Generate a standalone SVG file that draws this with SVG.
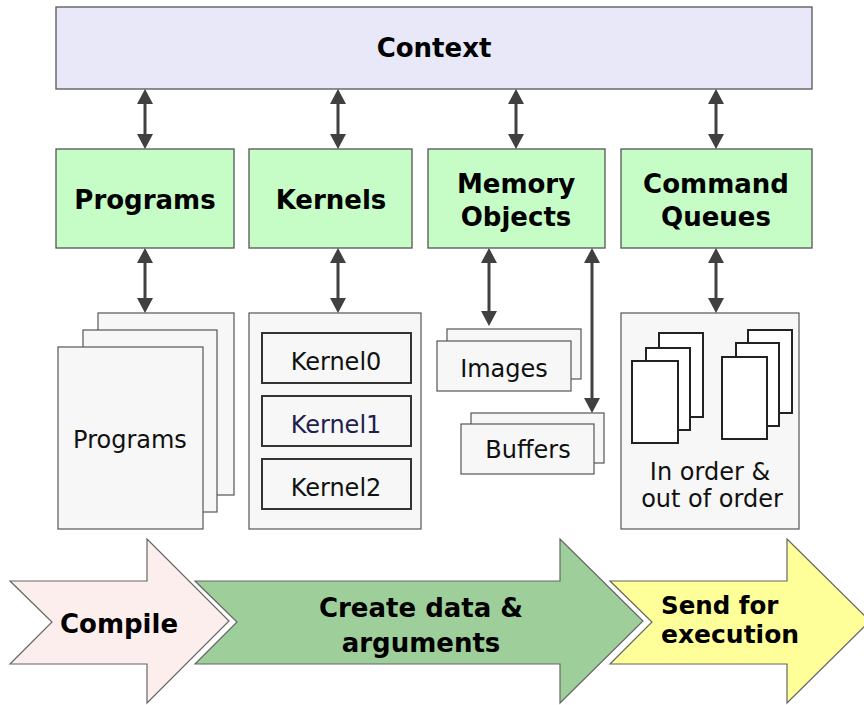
<svg xmlns="http://www.w3.org/2000/svg" width="864" height="705" viewBox="0 0 864 705">
<defs>
<style>
.ctx{fill:#e8e8f8;stroke:#555;stroke-width:1.3}
.grn{fill:#c6fcc6;stroke:#555;stroke-width:1.3}
.sheet{fill:#f7f7f7;stroke:#555;stroke-width:1.2}
.kbox{fill:#f7f7f7;stroke:#333;stroke-width:2}
.q{fill:#fff;stroke:#222;stroke-width:2}
.b{font-family:"DejaVu Sans",Verdana,sans-serif;font-weight:bold;font-size:26px;fill:#000;text-anchor:middle}
.r{font-family:"DejaVu Sans",Verdana,sans-serif;font-size:24px;fill:#111;text-anchor:middle}
.conn{stroke:#404040;stroke-width:3;fill:none;marker-start:url(#ah);marker-end:url(#ah)}
.barrow{stroke:#666;stroke-width:1.2}
</style>
<marker id="ah" viewBox="0 0 15 16" markerWidth="15" markerHeight="16" refX="5" refY="8" orient="auto-start-reverse" markerUnits="userSpaceOnUse">
<path d="M0,0 L15,8 L0,16 z" fill="#404040"/>
</marker>
</defs>
<rect width="864" height="705" fill="#fff"/>

<g id="context">
<rect class="ctx" x="56" y="7" width="756" height="82"/>
<text class="b" x="434" y="57">Context</text>
</g>

<g id="programs">
<rect class="grn" x="56" y="149" width="178" height="99"/>
<text class="b" x="145" y="209">Programs</text>
</g>
<g id="kernels">
<rect class="grn" x="249" y="149" width="163" height="99"/>
<text class="b" x="331" y="209">Kernels</text>
</g>
<g id="memory-objects">
<rect class="grn" x="428" y="149" width="177" height="99"/>
<text class="b" x="516" y="193">Memory</text>
<text class="b" x="516" y="226">Objects</text>
</g>
<g id="command-queues">
<rect class="grn" x="621" y="149" width="191" height="99"/>
<text class="b" x="716" y="193">Command</text>
<text class="b" x="716" y="226">Queues</text>
</g>

<g id="program-stack">
<rect class="sheet" x="98" y="313" width="136" height="182"/>
<rect class="sheet" x="83" y="330" width="134" height="182"/>
<rect class="sheet" x="58" y="347" width="145" height="182"/>
<text class="r" x="130" y="448">Programs</text>
</g>

<g id="kernel-list">
<rect class="sheet" x="249" y="313" width="172" height="216"/>
<rect class="kbox" x="262" y="333" width="149" height="50"/>
<text class="r" x="336" y="370">Kernel0</text>
<rect class="kbox" x="262" y="396" width="149" height="50"/>
<text class="r" x="336" y="433" style="fill:#1f2050">Kernel1</text>
<rect class="kbox" x="262" y="459" width="149" height="50"/>
<text class="r" x="336" y="496">Kernel2</text>
</g>

<g id="images">
<rect class="sheet" x="447" y="329" width="134" height="50"/>
<rect class="sheet" x="437" y="341" width="134" height="50"/>
<text class="r" x="504" y="377">Images</text>
</g>

<g id="buffers">
<rect class="sheet" x="471" y="413" width="133" height="50"/>
<rect class="sheet" x="461" y="424" width="133" height="50"/>
<text class="r" x="528" y="458">Buffers</text>
</g>

<g id="queues">
<rect class="sheet" x="621" y="313" width="178" height="216"/>
<rect class="q" x="659" y="333" width="44" height="84"/>
<rect class="q" x="646" y="348" width="44" height="82"/>
<rect class="q" x="632" y="361" width="46" height="82"/>
<rect class="q" x="748" y="330" width="44" height="83"/>
<rect class="q" x="736" y="343" width="43" height="83"/>
<rect class="q" x="722" y="357" width="45" height="82"/>
<text class="r" x="710" y="480">In order &amp;</text>
<text class="r" x="712" y="507">out of order</text>
</g>

<g id="connectors">
<path class="conn" d="M145,99 V139"/>
<path class="conn" d="M338,99 V139"/>
<path class="conn" d="M516,99 V139"/>
<path class="conn" d="M716,99 V139"/>
<path class="conn" d="M145,258 V303"/>
<path class="conn" d="M338,258 V303"/>
<path class="conn" d="M489,258 V316"/>
<path class="conn" d="M592,258 V403"/>
<path class="conn" d="M716,258 V303"/>
</g>

<g id="compile">
<path class="barrow" fill="#fdeeee" d="M10,581 L147,581 L147,539 L229,621 L147,703 L147,664 L10,664 L52,622 Z"/>
<text class="b" x="119" y="633">Compile</text>
</g>
<g id="create-data">
<path class="barrow" fill="#9ecf9a" d="M195,581 L560,581 L560,539 L643,621 L560,703 L560,664 L195,664 L237,622 Z"/>
<text class="b" x="421" y="617">Create data &amp;</text>
<text class="b" x="421" y="652">arguments</text>
</g>
<g id="send-for-execution">
<path class="barrow" fill="#ffff99" d="M610,581 L787,581 L787,539 L870,621 L787,703 L787,664 L610,664 L652,622 Z"/>
<text class="b" x="661" y="614" style="text-anchor:start;font-size:24.5px">Send for</text>
<text class="b" x="661" y="643" style="text-anchor:start;font-size:25px">execution</text>
</g>
</svg>
